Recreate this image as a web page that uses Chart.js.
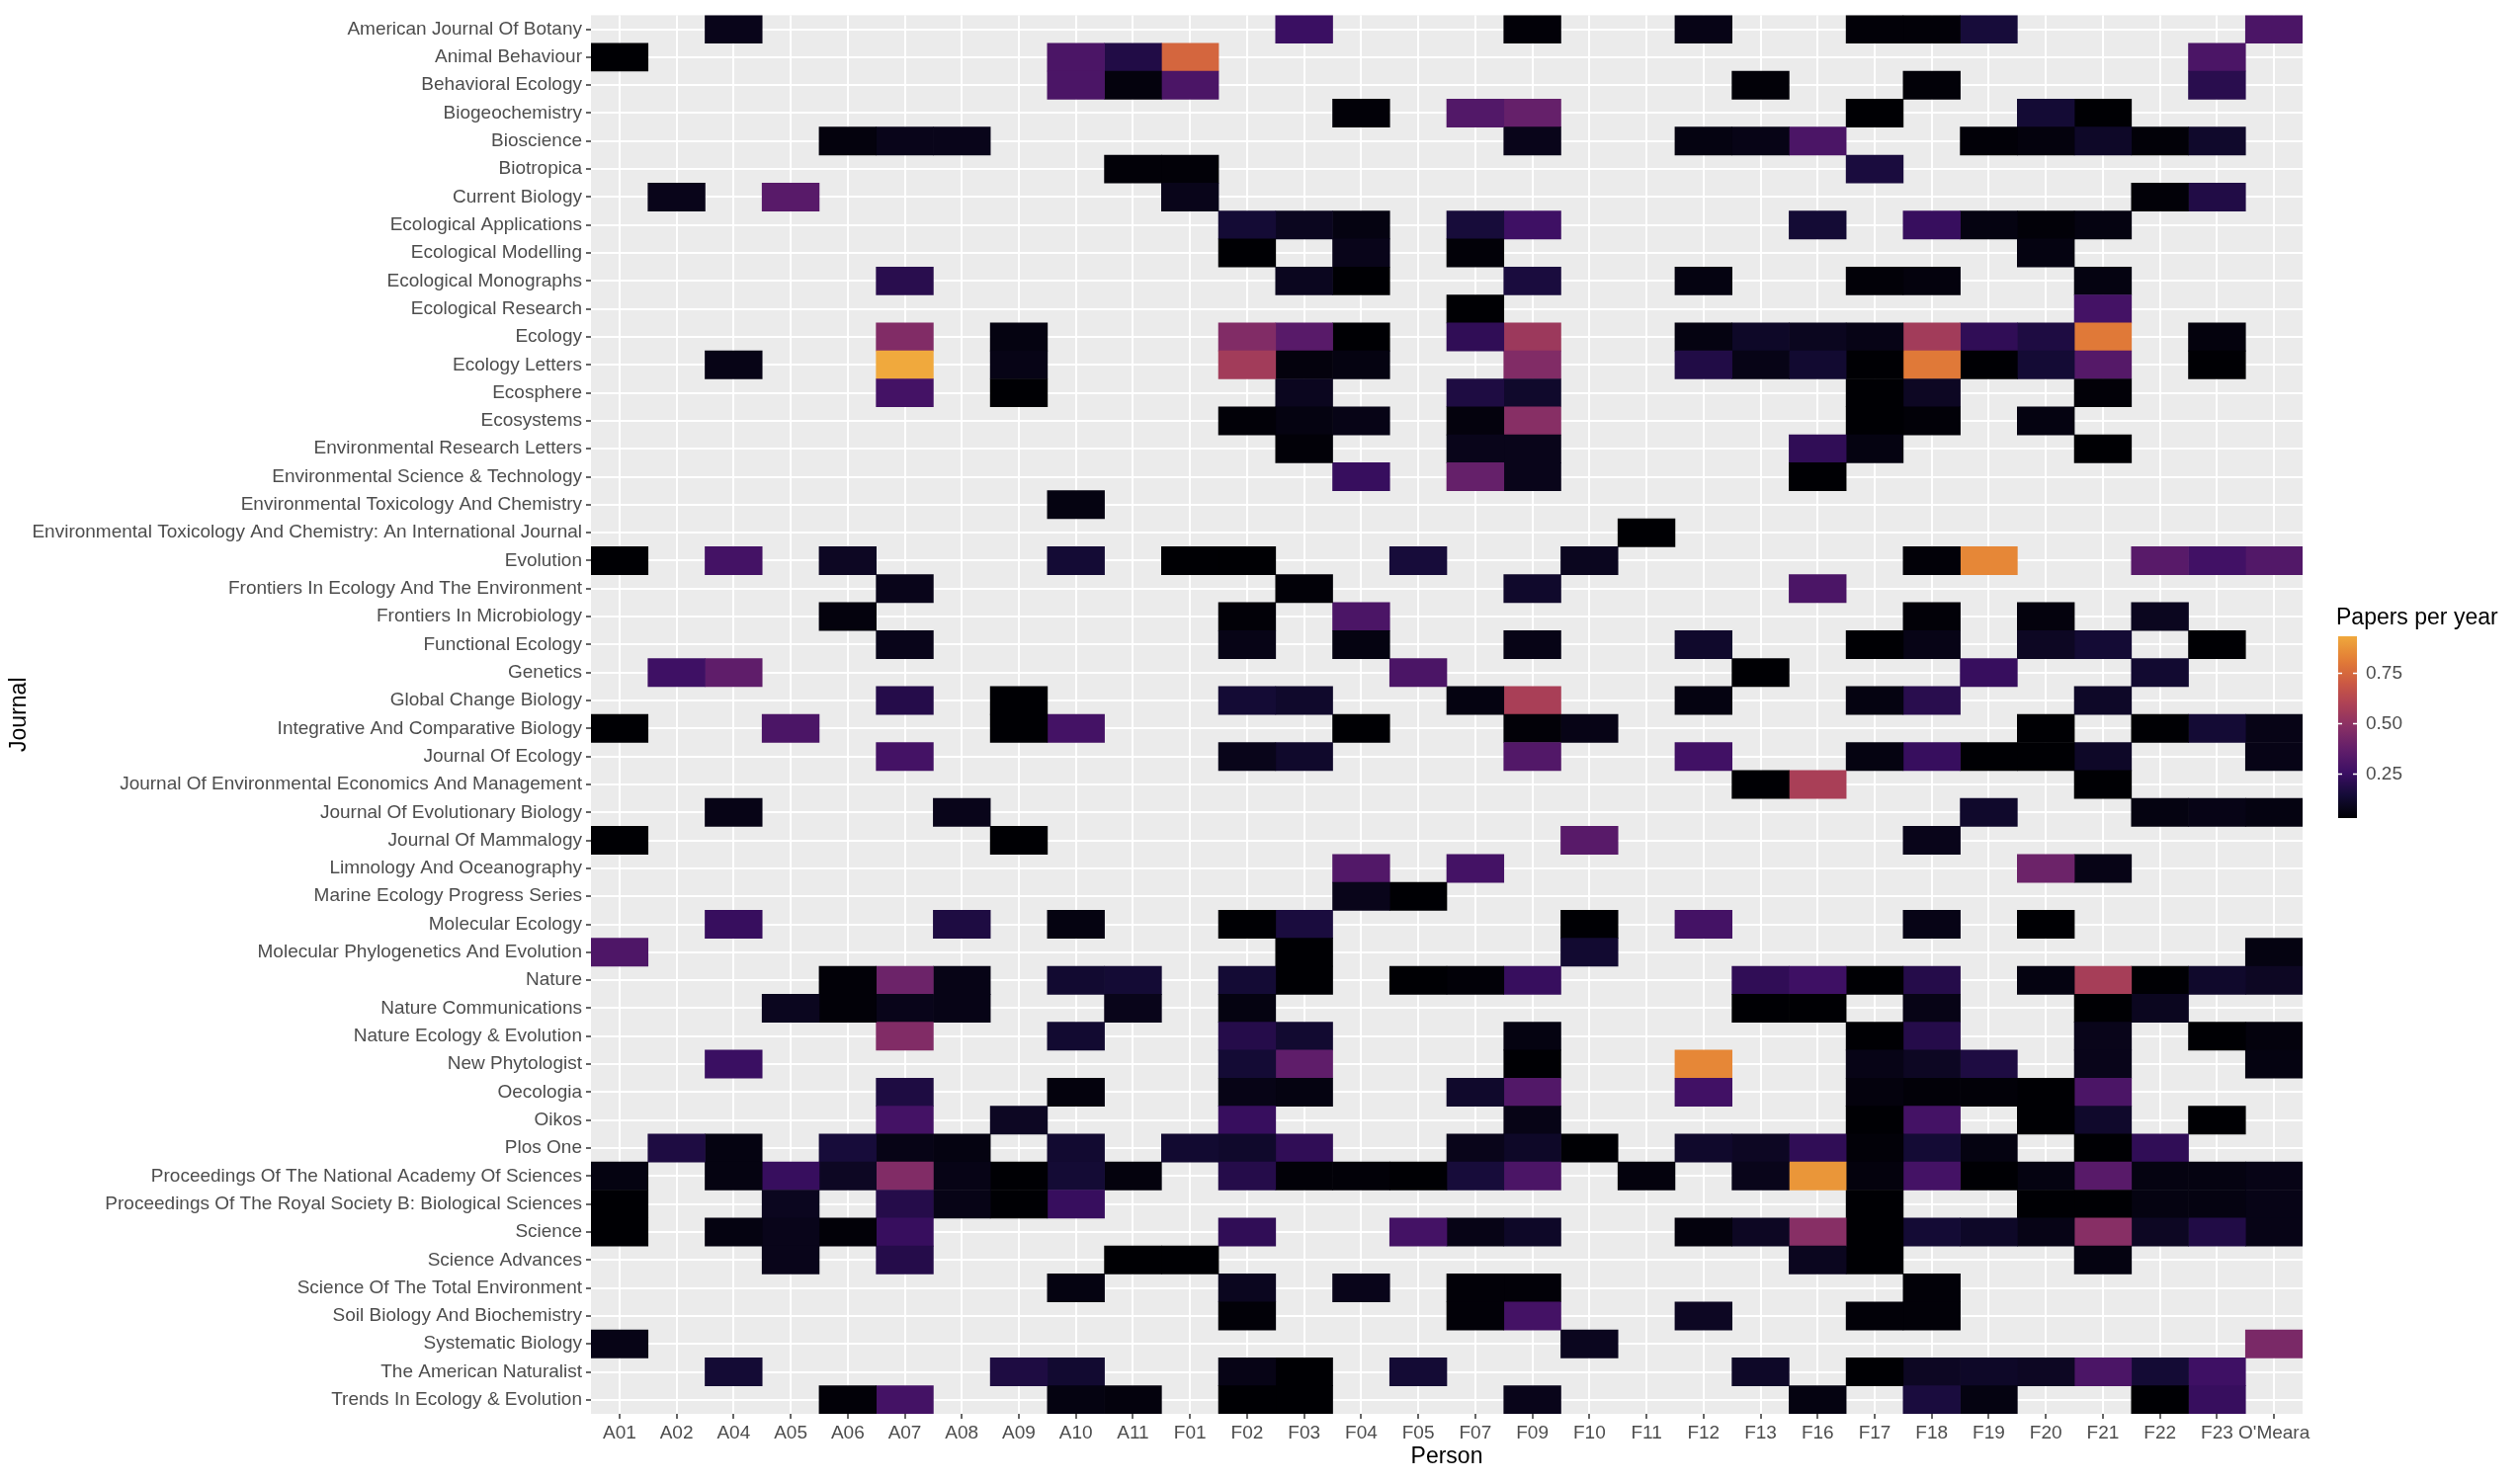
<!DOCTYPE html>
<html>
<head>
<meta charset="utf-8">
<title>Papers per year by journal and person</title>
<script src="https://cdn.jsdelivr.net/npm/chart.js@4.4.1/dist/chart.umd.min.js"></script>
<style>
  html, body { margin: 0; padding: 0; background: #fff; }
  #wrap { width: 2550px; height: 1500px; }
</style>
</head>
<body>
<div id="wrap"><canvas id="heat" width="2550" height="1500"></canvas></div>
<script>
// people along the x axis
const persons = ['A01', 'A02', 'A04', 'A05', 'A06', 'A07', 'A08', 'A09', 'A10', 'A11',
  'F01', 'F02', 'F03', 'F04', 'F05', 'F07', 'F09', 'F10', 'F11', 'F12',
  'F13', 'F16', 'F17', 'F18', 'F19', 'F20', 'F21', 'F22', 'F23', "O'Meara"];

// journals, top to bottom
const journals = [
  'American Journal Of Botany', 'Animal Behaviour', 'Behavioral Ecology', 'Biogeochemistry',
  'Bioscience', 'Biotropica', 'Current Biology', 'Ecological Applications', 'Ecological Modelling',
  'Ecological Monographs', 'Ecological Research', 'Ecology', 'Ecology Letters', 'Ecosphere',
  'Ecosystems', 'Environmental Research Letters', 'Environmental Science & Technology',
  'Environmental Toxicology And Chemistry',
  'Environmental Toxicology And Chemistry: An International Journal', 'Evolution',
  'Frontiers In Ecology And The Environment', 'Frontiers In Microbiology', 'Functional Ecology',
  'Genetics', 'Global Change Biology', 'Integrative And Comparative Biology', 'Journal Of Ecology',
  'Journal Of Environmental Economics And Management', 'Journal Of Evolutionary Biology',
  'Journal Of Mammalogy', 'Limnology And Oceanography', 'Marine Ecology Progress Series',
  'Molecular Ecology', 'Molecular Phylogenetics And Evolution', 'Nature', 'Nature Communications',
  'Nature Ecology & Evolution', 'New Phytologist', 'Oecologia', 'Oikos', 'Plos One',
  'Proceedings Of The National Academy Of Sciences',
  'Proceedings Of The Royal Society B: Biological Sciences', 'Science', 'Science Advances',
  'Science Of The Total Environment', 'Soil Biology And Biochemistry', 'Systematic Biology',
  'The American Naturalist', 'Trends In Ecology & Evolution'];

const _ = null;
// papers per year; one row per journal, columns in the order of `persons`
//          A01 A02 A04 A05 A06 A07 A08 A09 A10 A11   F01 F02 F03 F04 F05 F07 F09 F10 F11 F12   F13 F16 F17 F18 F19 F20 F21 F22 F23 OMe
const papers = [
  [_,_,.08,_,_,_,_,_,_,_,            _,_,.25,_,_,_,.04,_,_,.07,          _,_,.04,.04,.15,_,_,_,_,.30],
  [.03,_,_,_,_,_,_,_,.30,.18,        .74,_,_,_,_,_,_,_,_,_,              _,_,_,_,_,_,_,_,.30,_],
  [_,_,_,_,_,_,_,_,.30,.05,          .30,_,_,_,_,_,_,_,_,_,              .04,_,_,.04,_,_,_,_,.20,_],
  [_,_,_,_,_,_,_,_,_,_,              _,_,_,.04,_,.32,.38,_,_,_,          _,_,.03,_,_,.14,.03,_,_,_],
  [_,_,_,_,.05,.08,.08,_,_,_,        _,_,_,_,_,_,.08,_,_,.06,            .07,.30,_,_,.04,.05,.11,.04,.12,_],
  [_,_,_,_,_,_,_,_,_,.04,            .04,_,_,_,_,_,_,_,_,_,              _,_,.16,_,_,_,_,_,_,_],
  [_,.08,_,.34,_,_,_,_,_,_,          .08,_,_,_,_,_,_,_,_,_,              _,_,_,_,_,_,_,.04,.18,_],
  [_,_,_,_,_,_,_,_,_,_,              _,.14,.09,.06,_,.15,.26,_,_,_,      _,.14,_,.24,.06,.04,.06,_,_,_],
  [_,_,_,_,_,_,_,_,_,_,              _,.03,_,.08,_,.04,_,_,_,_,          _,_,_,_,_,.06,_,_,_,_],
  [_,_,_,_,_,.20,_,_,_,_,            _,_,.09,.03,_,_,.16,_,_,.06,        _,_,.04,.05,_,_,.06,_,_,_],
  [_,_,_,_,_,_,_,_,_,_,              _,_,_,_,_,.03,_,_,_,_,              _,_,_,_,_,_,.28,_,_,_],
  [_,_,_,_,_,.46,_,.06,_,_,          _,.46,.34,.03,_,.22,.54,_,_,.06,    .11,.09,.07,.56,.22,.17,.80,_,.05,_],
  [_,_,.07,_,_,.93,_,.07,_,_,        _,.56,.05,.06,_,_,.46,_,_,.18,      .07,.13,.03,.80,.03,.14,.33,_,.03,_],
  [_,_,_,_,_,.28,_,.03,_,_,          _,_,.09,_,_,.17,.12,_,_,_,          _,_,.03,.10,_,_,.04,_,_,_],
  [_,_,_,_,_,_,_,_,_,_,              _,.04,.06,.07,_,.05,.48,_,_,_,      _,_,.03,.04,_,.06,_,_,_,_],
  [_,_,_,_,_,_,_,_,_,_,              _,_,.04,_,_,.08,.08,_,_,_,          _,.22,.06,_,_,_,.03,_,_,_],
  [_,_,_,_,_,_,_,_,_,_,              _,_,_,.24,_,.38,.08,_,_,_,          _,.03,_,_,_,_,_,_,_,_],
  [_,_,_,_,_,_,_,_,.06,_,            _,_,_,_,_,_,_,_,_,_,                _,_,_,_,_,_,_,_,_,_],
  [_,_,_,_,_,_,_,_,_,_,              _,_,_,_,_,_,_,_,.03,_,              _,_,_,_,_,_,_,_,_,_],
  [.03,_,.28,_,.10,_,_,_,.14,_,      .03,.03,_,_,.15,_,_,.09,_,_,        _,_,_,.04,.84,_,_,.34,.27,.32],
  [_,_,_,_,_,.08,_,_,_,_,            _,_,.04,_,_,_,.12,_,_,_,            _,.30,_,_,_,_,_,_,_,_],
  [_,_,_,_,.05,_,_,_,_,_,            _,.04,_,.30,_,_,_,_,_,_,            _,_,_,.04,_,.05,_,.09,_,_],
  [_,_,_,_,_,.08,_,_,_,_,            _,.07,_,.06,_,_,.07,_,_,.12,        _,_,.03,.07,_,.10,.14,_,.03,_],
  [_,.26,.36,_,_,_,_,_,_,_,          _,_,_,_,.30,_,_,_,_,_,              .03,_,_,_,.24,_,_,.13,_,_],
  [_,_,_,_,_,.19,_,.03,_,_,          _,.14,.12,_,_,.06,.58,_,_,.06,      _,_,.06,.20,_,_,.11,_,_,_],
  [.03,_,_,.30,_,_,_,.03,.28,_,      _,_,_,.03,_,_,.04,.07,_,_,          _,_,_,_,_,.03,_,.03,.14,.07],
  [_,_,_,_,_,.28,_,_,_,_,            _,.08,.12,_,_,_,.32,_,_,.27,        _,_,.06,.24,.03,.03,.11,_,_,.07],
  [_,_,_,_,_,_,_,_,_,_,              _,_,_,_,_,_,_,_,_,_,                .03,.58,_,_,_,_,.03,_,_,_],
  [_,_,.07,_,_,_,.08,_,_,_,          _,_,_,_,_,_,_,_,_,_,                _,_,_,_,.12,_,_,.06,.07,.06],
  [.03,_,_,_,_,_,_,.03,_,_,          _,_,_,_,_,_,_,.34,_,_,              _,_,_,.08,_,_,_,_,_,_],
  [_,_,_,_,_,_,_,_,_,_,              _,_,_,.32,_,.28,_,_,_,_,            _,_,_,_,_,.40,.07,_,_,_],
  [_,_,_,_,_,_,_,_,_,_,              _,_,_,.08,.03,_,_,_,_,_,            _,_,_,_,_,_,_,_,_,_],
  [_,_,.24,_,_,_,.17,_,.06,_,        _,.03,.16,_,_,_,_,.03,_,.28,        _,_,_,.07,_,.03,_,_,_,_],
  [.31,_,_,_,_,_,_,_,_,_,            _,_,.03,_,_,_,_,.13,_,_,            _,_,_,_,_,_,_,_,_,.06],
  [_,_,_,_,.04,.40,.07,_,.13,.14,    _,.14,.03,_,.03,.04,.24,_,_,_,      .22,.26,.03,.19,_,.06,.57,.03,.12,.10],
  [_,_,_,.09,.04,.08,.07,_,_,.08,    _,.06,_,_,_,_,_,_,_,_,              .03,.03,_,.07,_,_,.03,.09,_,_],
  [_,_,_,_,_,.46,_,_,.13,_,          _,.19,.13,_,_,_,.06,_,_,_,          _,_,.03,.19,_,_,.08,_,.03,.05],
  [_,_,.25,_,_,_,_,_,_,_,            _,.14,.36,_,_,_,.03,_,_,.84,        _,_,.07,.10,.17,_,.08,_,_,.06],
  [_,_,_,_,_,.17,_,_,.05,_,          _,.07,.06,_,_,.12,.32,_,_,.27,      _,_,.05,.04,.04,.03,.30,_,_,_],
  [_,_,_,_,_,.28,_,.10,_,_,          _,.24,_,_,_,_,.07,_,_,_,            _,_,.03,.28,_,.03,.12,_,.03,_],
  [_,.17,.06,_,.15,.07,.06,_,.13,_,  .13,.12,.22,_,_,.08,.11,.03,_,.12,  .10,.22,.04,.14,.06,_,.03,.22,_,_],
  [.06,_,.06,.24,.10,.46,.07,.03,.14,.05, _,.19,.04,.04,.03,.15,.30,_,.05,_, .08,.88,.05,.28,.03,.06,.34,.06,.06,.07],
  [.03,_,_,.09,_,.19,.07,.03,.24,_,  _,_,_,_,_,_,_,_,_,_,                _,_,.03,_,_,.03,.03,.06,.06,.07],
  [.03,_,.06,.08,.04,.24,_,_,_,_,    _,.22,_,_,.28,.07,.11,_,_,.05,      .10,.48,.03,.14,.11,.07,.48,.10,.18,.07],
  [_,_,_,.08,_,.19,_,_,_,.03,        .03,_,_,_,_,_,_,_,_,_,              _,.09,.03,_,_,_,.06,_,_,_],
  [_,_,_,_,_,_,_,_,.06,_,            _,.09,_,.08,_,.04,.04,_,_,_,        _,_,_,.04,_,_,_,_,_,_],
  [_,_,_,_,_,_,_,_,_,_,              _,.04,_,_,_,.04,.28,_,_,.10,        _,_,.04,.04,_,_,_,_,_,_],
  [.07,_,_,_,_,_,_,_,_,_,            _,_,_,_,_,_,_,.09,_,_,              _,_,_,_,_,_,_,_,_,.44],
  [_,_,.14,_,_,_,_,.17,.13,_,        _,.07,.03,_,.14,_,_,_,_,_,          .11,_,.03,.10,.11,.10,.30,.14,.26,_],
  [_,_,_,_,.04,.28,_,_,.06,.05,      _,.03,.03,_,_,_,.08,_,_,_,          _,.06,_,.16,.06,_,_,.03,.24,_]
];

const legendTicks = [0.25, 0.5, 0.75];

// inferno palette, cut off at 80% like the reference
const inferno = ['#000004', '#160b39', '#420a68', '#6a176e', '#932667', '#bc3754',
  '#dd513a', '#f37819', '#fca50a', '#f6d746', '#fcffa4'];
const paletteEnd = 0.8;

const allVals = papers.flat().filter(v => v != null);
const vMin = Math.min(...allVals);
const vMax = Math.max(...allVals);

function hexRgb(h) {
  return [1, 3, 5].map(i => parseInt(h.slice(i, i + 2), 16));
}
// the reference image carries its colours in display-p3 numbers, so shift them the same way
const toLin = c => { c /= 255; return c <= 0.04045 ? c / 12.92 : Math.pow((c + 0.055) / 1.055, 2.4); };
const toGam = c => 255 * (c <= 0.0031308 ? 12.92 * c : 1.055 * Math.pow(c, 1 / 2.4) - 0.055);
function toP3(rgb) {
  const [r, g, b] = rgb.map(toLin);
  const out = [
    0.8225 * r + 0.1774 * g,
    0.0332 * r + 0.9669 * g,
    0.0171 * r + 0.0724 * g + 0.9108 * b
  ];
  return out.map(c => Math.round(Math.max(0, Math.min(255, toGam(c)))));
}
function infernoAt(t) {
  t = Math.max(0, Math.min(1, t));
  const pos = t * (inferno.length - 1);
  const i = Math.min(Math.floor(pos), inferno.length - 2);
  const f = pos - i;
  const a = hexRgb(inferno[i]), b = hexRgb(inferno[i + 1]);
  const c = toP3(a.map((x, k) => x + (b[k] - x) * f));
  return `rgb(${c[0]},${c[1]},${c[2]})`;
}
function fillFor(v) {
  return infernoAt((v - vMin) / (vMax - vMin) * paletteEnd);
}

const font = '"Liberation Sans", Arial, Helvetica, sans-serif';

// one dataset per person, each cell a floating bar spanning its column
const datasets = persons.map((p, c) => ({
  label: p,
  data: journals.map((j, r) => papers[r][c] == null ? null : [c - 0.5, c + 0.5]),
  backgroundColor: journals.map((j, r) => papers[r][c] == null ? 'rgba(0,0,0,0)' : fillFor(papers[r][c])),
  borderWidth: 0,
  grouped: false,
  barPercentage: 1,
  categoryPercentage: 1
}));

// grey panel like ggplot
const panelBg = {
  id: 'panelBg',
  beforeDraw(chart) {
    const { ctx, chartArea: a } = chart;
    ctx.save();
    ctx.fillStyle = '#fff';
    ctx.fillRect(0, 0, chart.width, chart.height);
    ctx.fillStyle = '#ebebeb';
    ctx.fillRect(a.left, a.top, a.right - a.left, a.bottom - a.top);
    ctx.restore();
  }
};

// continuous colour bar legend
const colorBar = {
  id: 'colorBar',
  afterDraw(chart) {
    const { ctx, chartArea: a } = chart;
    const x = a.right + 36, y = 644, w = 19, h = 184;
    const toY = v => y + h - (v - vMin) / (vMax - vMin) * h;
    ctx.save();
    const g = ctx.createLinearGradient(0, y + h, 0, y);
    for (let i = 0; i <= 40; i++) {
      g.addColorStop(i / 40, infernoAt(i / 40 * paletteEnd));
    }
    ctx.fillStyle = g;
    ctx.fillRect(x, y, w, h);

    ctx.strokeStyle = '#fff';
    ctx.lineWidth = 1.5;
    ctx.fillStyle = '#4d4d4d';
    ctx.font = `19px ${font}`;
    ctx.textBaseline = 'middle';
    ctx.textAlign = 'left';
    legendTicks.forEach(v => {
      const ty = Math.round(toY(v)) + 0.5;
      ctx.beginPath();
      ctx.moveTo(x, ty); ctx.lineTo(x + 4, ty);
      ctx.moveTo(x + w - 4, ty); ctx.lineTo(x + w, ty);
      ctx.stroke();
      ctx.fillText(v.toFixed(2), x + w + 9, ty);
    });

    ctx.fillStyle = '#000';
    ctx.font = `23px ${font}`;
    ctx.textBaseline = 'middle';
    ctx.fillText('Papers per year', x - 2, 626);
    ctx.restore();
  }
};

new Chart(document.getElementById('heat'), {
  type: 'bar',
  data: { labels: journals, datasets },
  options: {
    indexAxis: 'y',
    responsive: false,
    animation: false,
    devicePixelRatio: 1,
    layout: { padding: { left: 0, right: 220, top: 13, bottom: 0 } },
    plugins: {
      legend: { display: false },
      tooltip: { enabled: false }
    },
    scales: {
      x: {
        type: 'linear',
        position: 'bottom',
        min: -0.5,
        max: 29.5,
        afterBuildTicks: s => { s.ticks = persons.map((p, i) => ({ value: i })); },
        afterFit: s => { s.height = 69; },
        grid: { color: '#fff', lineWidth: 2, tickColor: '#333', tickLength: 5, tickWidth: 1.5 },
        border: { display: false },
        ticks: {
          stepSize: 1, autoSkip: false, maxRotation: 0, padding: 3,
          color: '#4d4d4d', font: { family: font, size: 19 },
          callback: v => persons[v]
        },
        title: {
          display: true, text: 'Person', color: '#000',
          font: { family: font, size: 23 }, padding: { top: 0, bottom: 12 }
        }
      },
      y: {
        type: 'category',
        offset: true,
        afterFit: s => { s.width = 598; },
        grid: { offset: false, color: '#fff', lineWidth: 2, tickColor: '#333', tickLength: 5, tickWidth: 1.5 },
        border: { display: false },
        ticks: {
          autoSkip: false, padding: 4,
          color: '#4d4d4d', font: { family: font, size: 19 }
        },
        title: {
          display: true, text: 'Journal', color: '#000',
          font: { family: font, size: 23 }, padding: { top: 6, bottom: 0 }
        }
      }
    }
  },
  plugins: [panelBg, colorBar]
});
</script>
</body>
</html>
